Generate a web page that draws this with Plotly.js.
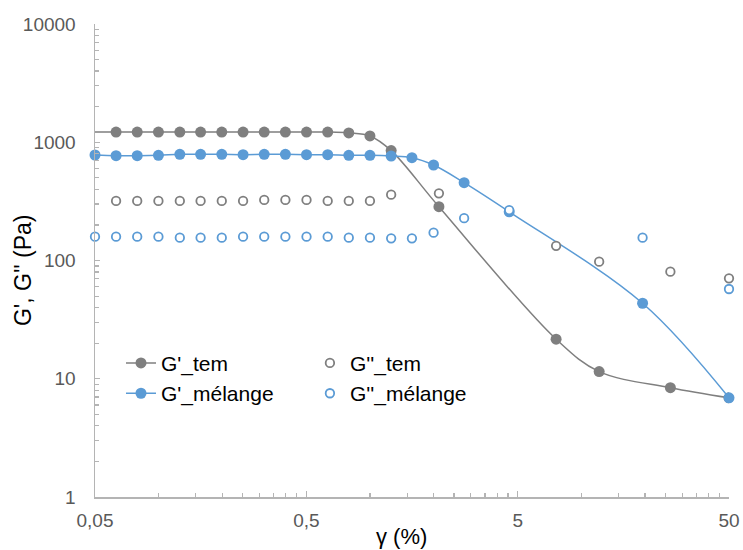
<!DOCTYPE html>
<html>
<head>
<meta charset="utf-8">
<script src="https://cdn.plot.ly/plotly-3.0.1.min.js"></script>
<style>html,body{margin:0;padding:0;background:#fff;}#chart{width:743px;height:550px;}</style>
</head>
<body>
<div id="chart"></div>
<script>
// strain γ (%) for each series
const gamma_tem = [0.0397, 0.0629, 0.0792, 0.0998, 0.126, 0.158, 0.199, 0.251, 0.316, 0.398, 0.501, 0.631, 0.794, 1.0, 1.26, 2.12, 7.6, 12.15, 26.4, 50];
const Gp_tem    = [1220, 1220, 1220, 1220, 1220, 1220, 1220, 1220, 1220, 1220, 1220, 1220, 1200, 1130, 850, 285, 21.6, 11.5, 8.4, 6.9];
const Gpp_tem   = [null, 319, 319, 319, 319, 319, 319, 319, 325, 325, 325, 319, 319, 319, 360, 370, 133, 97.7, 80.4, 70.7];

const gamma_mel = [0.05, 0.0629, 0.0792, 0.0998, 0.126, 0.158, 0.199, 0.251, 0.316, 0.398, 0.501, 0.631, 0.794, 1.0, 1.26, 1.58, 2.0, 2.79, 4.56, 19.5, 50];
const Gp_mel    = [780, 770, 770, 775, 790, 790, 790, 785, 790, 790, 785, 785, 775, 775, 765, 740, 642, 455, 258, 43.5, 6.9];
const Gpp_mel   = [159, 159, 159, 159, 156, 156, 156, 159, 159, 159, 159, 159, 156, 156, 154, 154, 172, 228, 267, 156, 57.4];

const seriesNames = ["G'_tem", "G'_mélange", "G''_tem", "G''_mélange"];

const xTickVals = [0.05, 0.5, 5, 50];
const xTickText = ["0,05", "0,5", "5", "50"];
const xMinorVals = [0.1, 0.15, 0.2, 0.25, 0.3, 0.35, 0.4, 0.45,
                    1, 1.5, 2, 2.5, 3, 3.5, 4, 4.5,
                    10, 15, 20, 25, 30, 35, 40, 45];
const yTickVals = [1, 10, 100, 1000, 10000];
const yTickText = ["1", "10", "100", "1000", "10000"];
const xTitle = 'γ (%)';
const yTitle = "G', G'' (Pa)";

const GRAY = '#7f7f7f';
const BLUE = '#5b9bd5';
const FONT = 'Liberation Sans, Arial, sans-serif';

const traces = [
  {x: gamma_tem, y: Gp_tem, name: seriesNames[0], type: 'scatter', mode: 'lines+markers',
   line: {color: GRAY, width: 1.5, shape: 'spline', smoothing: 1},
   marker: {color: GRAY, size: 11}, cliponaxis: true, legend: 'legend', legendgroup: 'a'},
  {x: gamma_mel, y: Gp_mel, name: seriesNames[1], type: 'scatter', mode: 'lines+markers',
   line: {color: BLUE, width: 1.5, shape: 'spline', smoothing: 1},
   marker: {color: BLUE, size: 11}, cliponaxis: false, legend: 'legend', legendgroup: 'b'},
  {x: gamma_tem, y: Gpp_tem, name: seriesNames[2], type: 'scatter', mode: 'markers',
   marker: {color: '#ffffff', size: 8.5, line: {color: GRAY, width: 1.8}}, cliponaxis: false,
   legend: 'legend2', legendgroup: 'c'},
  {x: gamma_mel, y: Gpp_mel, name: seriesNames[3], type: 'scatter', mode: 'markers',
   marker: {color: '#ffffff', size: 8.5, line: {color: BLUE, width: 1.8}}, cliponaxis: false,
   legend: 'legend2', legendgroup: 'd'}
];

const axisCommon = {
  type: 'log', showgrid: false, zeroline: false, showline: true,
  linecolor: '#b4b4b4', linewidth: 1.5, ticks: 'inside', tickcolor: '#b4b4b4',
  tickwidth: 1.3, tickfont: {family: FONT, size: 19, color: '#595959'}, tickmode: 'array'
};

const layout = {
  width: 743, height: 550,
  margin: {l: 95, r: 14, t: 24, b: 53},
  paper_bgcolor: '#ffffff', plot_bgcolor: '#ffffff',
  separators: ',.',
  showlegend: true,
  xaxis: Object.assign({}, axisCommon, {
    range: [Math.log10(0.05), Math.log10(50)],
    tickvals: xTickVals, ticktext: xTickText, ticklen: 6,
    ticklabelstandoff: 6,
    minor: {tickmode: 'array', tickvals: xMinorVals, ticks: 'inside', ticklen: 4, tickcolor: '#b4b4b4', tickwidth: 1.2, showgrid: false}
  }),
  yaxis: Object.assign({}, axisCommon, {
    range: [0, 4],
    tickvals: yTickVals, ticktext: yTickText, ticklen: 5,
    ticklabelstandoff: 14,
    minor: {dtick: 'D1', ticks: 'inside', ticklen: 4, tickcolor: '#b4b4b4', tickwidth: 1.2, showgrid: false}
  }),
  annotations: [
    {text: xTitle, xref: 'paper', yref: 'paper', x: 0.484, y: -0.084, xanchor: 'center', yanchor: 'middle',
     showarrow: false, font: {family: FONT, size: 22, color: '#000000'}},
    {text: yTitle, xref: 'paper', yref: 'paper', x: -0.1134, y: 0.48, xanchor: 'center', yanchor: 'middle',
     textangle: -90, showarrow: false, font: {family: FONT, size: 23, color: '#000000'}}
  ],
  legend: {
    x: 0.041, y: 0.326, xanchor: 'left', yanchor: 'top', orientation: 'v',
    bgcolor: 'rgba(0,0,0,0)', tracegroupgap: 0,
    font: {family: FONT, size: 21, color: '#000000'}
  },
  legend2: {
    x: 0.339, y: 0.326, xanchor: 'left', yanchor: 'top', orientation: 'v',
    bgcolor: 'rgba(0,0,0,0)', tracegroupgap: 0,
    font: {family: FONT, size: 21, color: '#000000'}
  }
};

Plotly.newPlot('chart', traces, layout, {staticPlot: true, displayModeBar: false});
</script>
</body>
</html>
